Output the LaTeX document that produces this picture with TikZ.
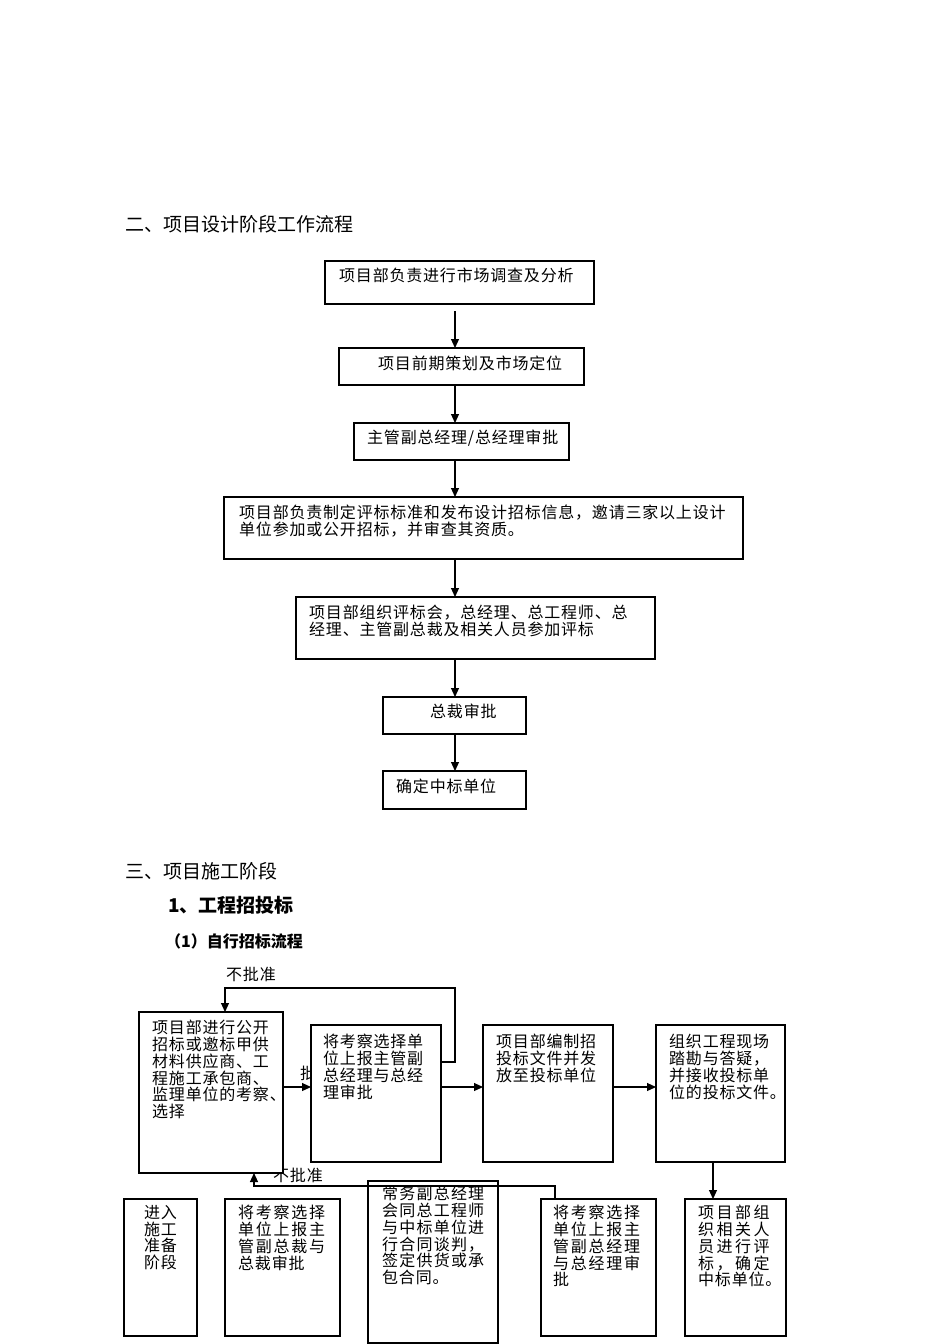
\documentclass[tikz,border=0pt]{standalone}
\usepackage{fontspec}
\newfontfamily\cjk[LetterSpace=5]{Noto Sans CJK SC}
\newfontfamily\cjkh{Noto Sans CJK SC}
\newfontfamily\cjkm[LetterSpace=7.5]{Noto Sans CJK SC}
\newfontfamily\cjkw[LetterSpace=11]{Noto Sans CJK SC}
\newfontfamily\cjkww[LetterSpace=15.5]{Noto Sans CJK SC}
\usetikzlibrary{arrows.meta,calc}
\tikzset{
 box/.style={draw, line width=1.1pt, fill=white, anchor=north west, inner sep=0pt, outer sep=0pt},
 txt/.style={inner sep=0pt, align=left, font=\cjk\fontsize{16pt}{16.8pt}\selectfont},
 head/.style={inner sep=0pt, anchor=west, font=\cjkh\fontsize{19pt}{22pt}\selectfont},
 arr/.style={line width=1.1pt, -{Triangle[length=9pt,width=8pt]}},
 ln/.style={line width=1.1pt}
}
\begin{document}
\begin{tikzpicture}[x=1pt,y=-1pt]
\useasboundingbox (0,0) rectangle (950,1344);
\fill[white] (0,0) rectangle (950,1344);

% headings
\node[head] (h1) at (125,224) {二、项目设计阶段工作流程};
\node[head] (h2) at (125,871) {三、项目施工阶段};
\node[head, font=\cjkh\bfseries\fontsize{19pt}{22pt}\selectfont] (h3) at (168,905) {1、工程招投标};
\node[head, font=\cjkh\bfseries\fontsize{16pt}{19pt}\selectfont] (h4) at (165,941) {（1）自行招标流程};

% ---------- design-phase flow ----------
\node[box, minimum width=269pt, minimum height=43pt] (b1) at (325,261) {};
\node[box, minimum width=245pt, minimum height=37pt] (b2) at (339,348) {};
\node[box, minimum width=215pt, minimum height=37pt] (b3) at (354,423) {};
\node[box, minimum width=519pt, minimum height=62pt] (b4) at (224,497) {};
\node[box, minimum width=359pt, minimum height=62pt] (b5) at (296,597) {};
\node[box, minimum width=143pt, minimum height=37pt] (b6) at (383,697) {};
\node[box, minimum width=143pt, minimum height=38pt] (b7) at (383,771) {};

\node[txt, anchor=west] (t1) at (339,275) {项目部负责进行市场调查及分析};
\node[txt, anchor=west] (t2) at (378,363) {项目前期策划及市场定位};
\node[txt, anchor=west] (t3) at (367,438) {主管副总经理/总经理审批};
\node[txt, anchor=north west] (t4) at (239,505) {项目部负责制定评标标准和发布设计招标信息，邀请三家以上设计\\单位参加或公开招标，并审查其资质。};
\node[txt, anchor=north west] (t5) at (309,605) {项目部组织评标会，总经理、总工程师、总\\经理、主管副总裁及相关人员参加评标};
\node[txt, anchor=west] (t6) at (430,711) {总裁审批};
\node[txt, anchor=west] (t7) at (396,786) {确定中标单位};

\coordinate (ax) at (455,0);
\draw[arr] ($(b1.south -| ax)+(0,7)$) -- (b2.north -| ax);
\draw[arr] (b2.south -| ax) -- (b3.north -| ax);
\draw[arr] (b3.south -| ax) -- (b4.north -| ax);
\draw[arr] (b4.south -| ax) -- (b5.north -| ax);
\draw[arr] (b5.south -| ax) -- (b6.north -| ax);
\draw[arr] (b6.south -| ax) -- (b7.north -| ax);

% ---------- tendering flow ----------
\node[txt, anchor=west] (l1) at (226,974) {不批准};
\node[txt, anchor=west] (l2) at (300,1073) {批};
\node[txt, anchor=west] (l3) at (273,1175) {不批准};

\node[box, minimum width=144pt, minimum height=161pt] (A) at (139,1012) {};
\node[box, minimum width=130pt, minimum height=137pt] (B) at (311,1025) {};
\node[box, minimum width=130pt, minimum height=137pt] (C) at (483,1025) {};
\node[box, minimum width=129pt, minimum height=137pt] (D) at (656,1025) {};
\node[box, minimum width=73pt, minimum height=137pt] (F) at (124,1199) {};
\node[box, minimum width=115pt, minimum height=137pt] (G) at (225,1199) {};
\node[box, minimum width=130pt, minimum height=162pt] (H) at (368,1181) {};
\node[box, minimum width=115pt, minimum height=137pt] (I) at (541,1199) {};
\node[box, minimum width=101pt, minimum height=137pt] (J) at (685,1199) {};

\node[txt, anchor=north west] (tA) at (152,1020) {项目部进行公开\\招标或邀标甲供\\材料供应商、工\\程施工承包商、\\监理单位的考察、\\选择};
\node[txt, anchor=north west] (tB) at (323,1034) {将考察选择单\\位上报主管副\\总经理与总经\\理审批};
\node[txt, anchor=north west] (tC) at (496,1034) {项目部编制招\\投标文件并发\\放至投标单位};
\node[txt, anchor=north west] (tD) at (669,1034) {组织工程现场\\踏勘与答疑，\\并接收投标单\\位的投标文件。};
\node[txt, anchor=north west] (tF) at (144,1205) {进入\\施工\\准备\\阶段};
\node[txt, anchor=north west] (tG) at (238,1205) {{\cjkw 将考察选择}\\{\cjkw 单位上报主}\\{\cjkw 管副总裁与}\\总裁审批};
\node[txt, anchor=north west] (tH) at (382,1186) {{\cjkm 常务副总经理}\\{\cjkm 会同总工程师}\\{\cjkm 与中标单位进}\\{\cjkm 行合同谈判，}\\{\cjkm 签定供货或承}\\包合同。};
\node[txt, anchor=north west] (tI) at (553,1205) {{\cjkw 将考察选择}\\{\cjkw 单位上报主}\\{\cjkw 管副总经理}\\{\cjkw 与总经理审}\\批};
\node[txt, anchor=north west] (tJ) at (698,1205) {{\cjkww 项目部组}\\{\cjkww 织相关人}\\{\cjkww 员进行评}\\{\cjkww 标，确定}\\中标单位。};

\draw[arr] ($(A.north east)+(0,75)$) -- ($(B.north west)+(0,62)$);
\draw[arr] ($(B.north east)+(0,62)$) -- ($(C.north west)+(0,62)$);
\draw[arr] ($(C.north east)+(0,62)$) -- ($(D.north west)+(0,62)$);
\draw[arr] ($(D.south west)+(57,0)$) -- ($(J.north west)+(28,0)$);

\coordinate (fb1) at (455,988);
\draw[arr] ($(B.north east)+(0,37)$) -| (fb1) -| ($(A.north west)+(86,0)$);
\draw[arr] ($(I.north west)+(14,0)$) |- ($(A.south west)+(115,13)$) -- ($(A.south west)+(115,0)$);
\end{tikzpicture}
\end{document}
